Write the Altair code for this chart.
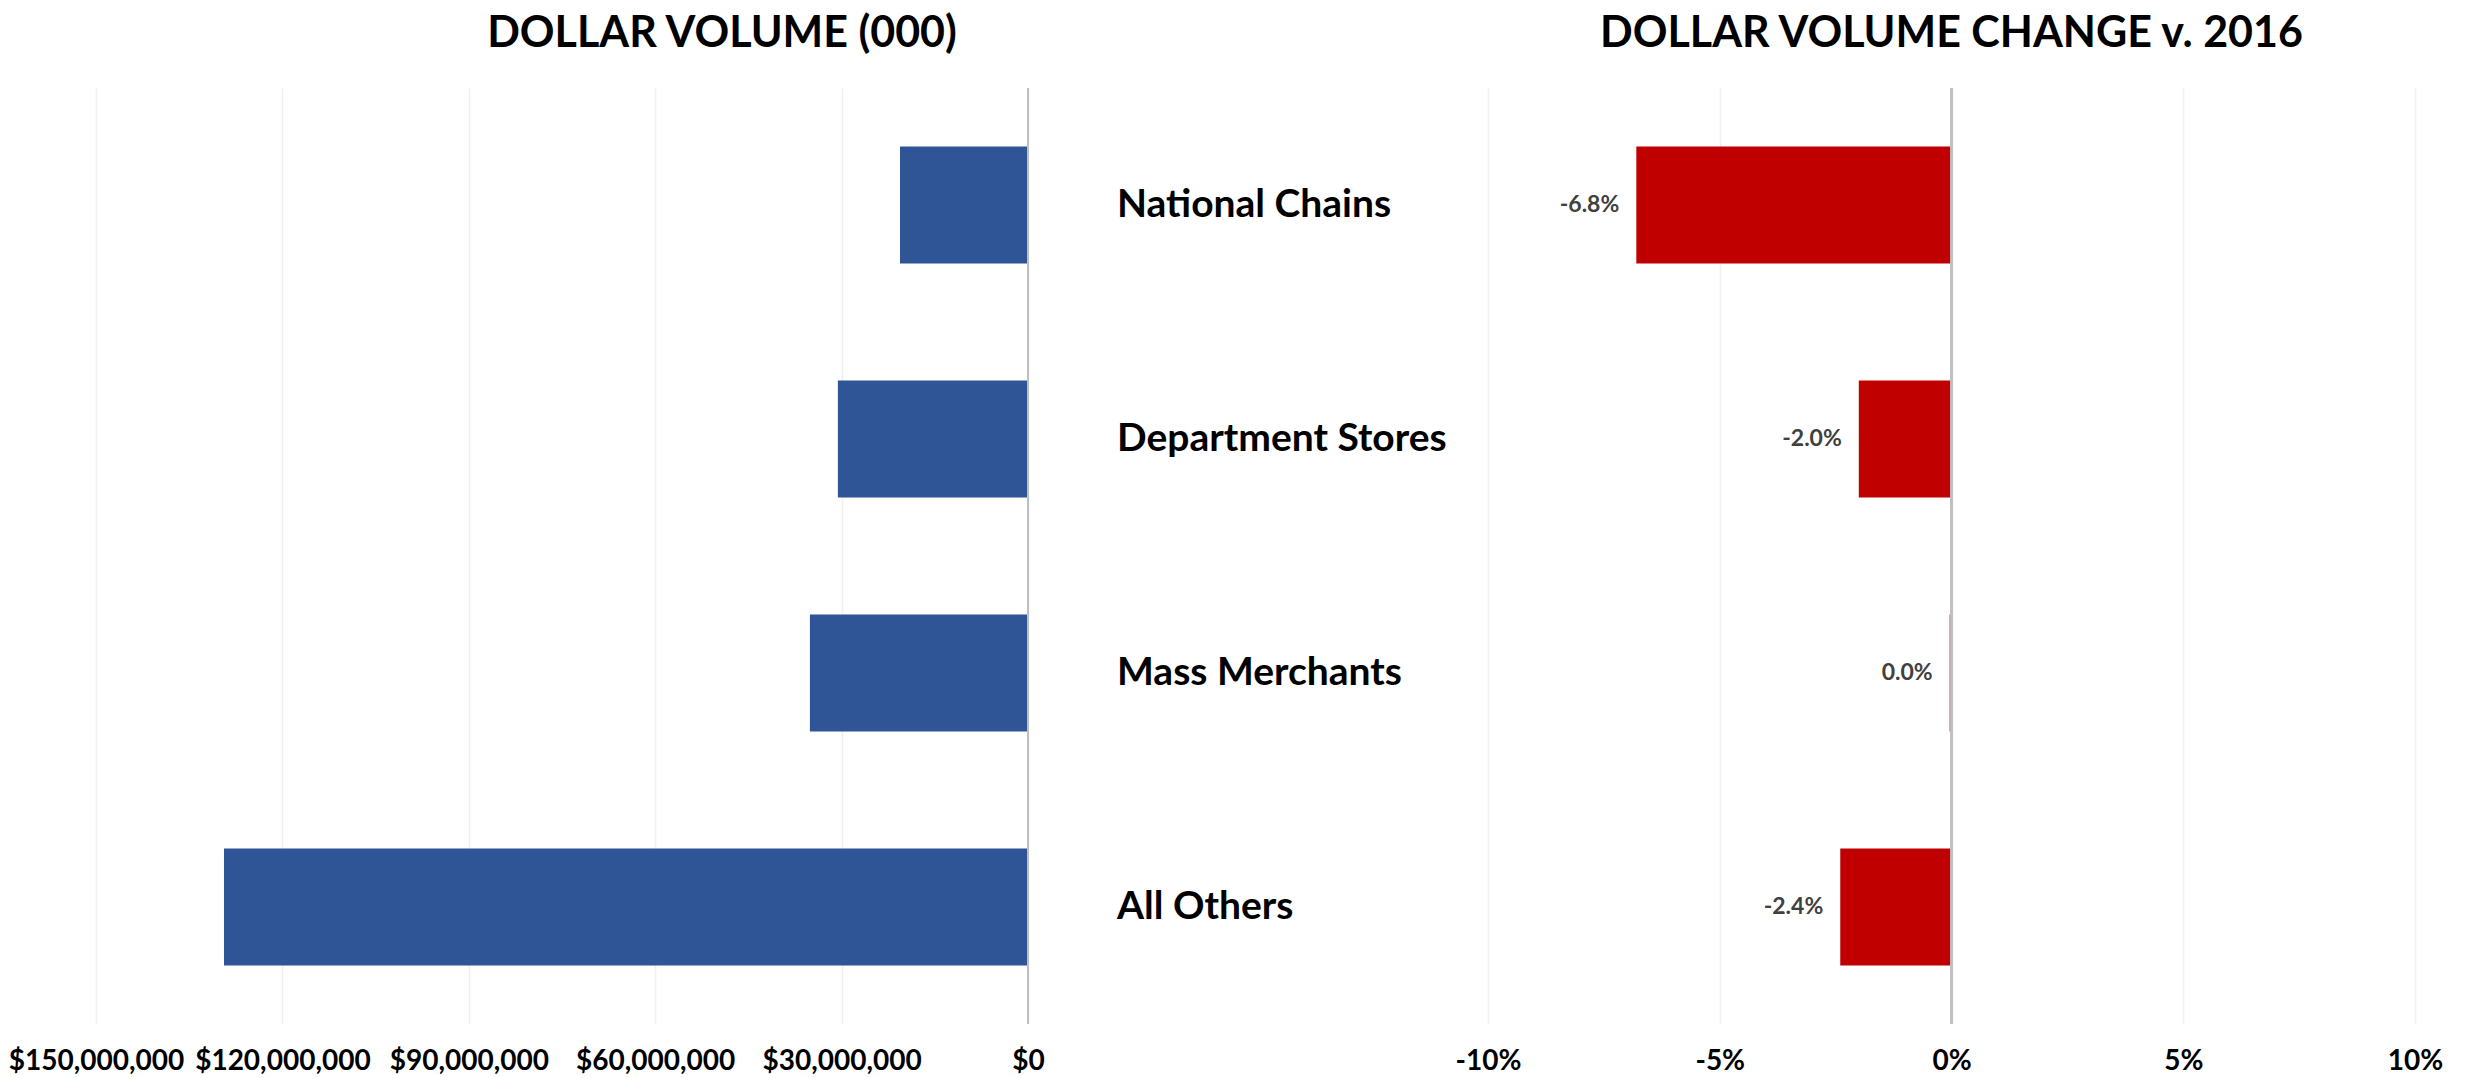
import altair as alt
import pandas as pd

categories = ["National Chains", "Department Stores", "Mass Merchants", "All Others"]
dollar_volume = [20_600_000, 30_600_000, 35_100_000, 129_400_000]
pct_change = [-6.8, -2.0, -0.04, -2.4]
pct_labels = ["-6.8%", "-2.0%", "0.0%", "-2.4%"]
volume_ticks = [0, 30_000_000, 60_000_000, 90_000_000, 120_000_000, 150_000_000]
pct_ticks = [-10, -5, 0, 5, 10]

df = pd.DataFrame({
    "category": categories,
    "volume": dollar_volume,
    "pct": pct_change,
    "label": pct_labels,
})

FONT = "Lato"
H = 936
GRID = "#EFEFEF"
ZERO = "#BFBFBF"


def yband():
    return alt.Y("category:N", sort=categories, axis=None,
                 scale=alt.Scale(paddingInner=0.5, paddingOuter=0.25))


def xaxis(values, **kw):
    return alt.Axis(values=values, title=None, grid=True, gridColor=GRID, gridWidth=1.5,
                    domain=False, ticks=False, labelFont=FONT, labelFontSize=28,
                    labelFontWeight="bold", labelColor="#000000", labelPadding=23,
                    labelFlush=False, labelOverlap=False, labelLimit=0, **kw)


title_style = dict(font=FONT, fontSize=43, fontWeight="bold", color="#000000",
                   anchor="middle", offset=31)

left_bars = alt.Chart(df).mark_bar(color="#2F5597").encode(
    x=alt.X("volume:Q",
            scale=alt.Scale(domain=[0, 150_000_000], reverse=True, nice=False, zero=True),
            axis=xaxis(volume_ticks, format="$,.0f")),
    y=yband(),
)
left_zero = alt.Chart(df).mark_rule(color=ZERO, strokeWidth=2).encode(x=alt.datum(0))
left = alt.layer(left_bars, left_zero).properties(
    width=932, height=H,
    title=alt.Title("DOLLAR VOLUME (000)", dx=160, **title_style),
)

middle = alt.Chart(df).mark_text(
    align="left", baseline="middle", font=FONT, fontSize=39, fontWeight="bold", color="#000000"
).encode(
    x=alt.value(89), y=yband(), text="category:N"
).properties(width=460, height=H)

right_bars = alt.Chart(df).mark_bar(color="#C00000").encode(
    x=alt.X("pct:Q", scale=alt.Scale(domain=[-10, 10], nice=False),
            axis=xaxis(pct_ticks, labelExpr="datum.value + '%'")),
    y=yband(),
)
right_zero = alt.Chart(df).mark_rule(color=ZERO, strokeWidth=2).encode(x=alt.datum(0))
right_text = alt.Chart(df).mark_text(
    align="right", baseline="middle", dx=-17, font=FONT, fontSize=23,
    fontWeight="bold", color="#404040"
).encode(x="pct:Q", y=yband(), text="label:N")
right = alt.layer(right_bars, right_zero, right_text).properties(
    width=927, height=H,
    title=alt.Title("DOLLAR VOLUME CHANGE v. 2016", **title_style),
)

chart = alt.hconcat(left, middle, right, spacing=0, bounds="flush").configure_view(
    stroke=None
).properties(padding={"left": 0, "top": 5, "right": 0, "bottom": 0})

chart.save("out.html", embed_options={"renderer": "svg", "actions": False})
